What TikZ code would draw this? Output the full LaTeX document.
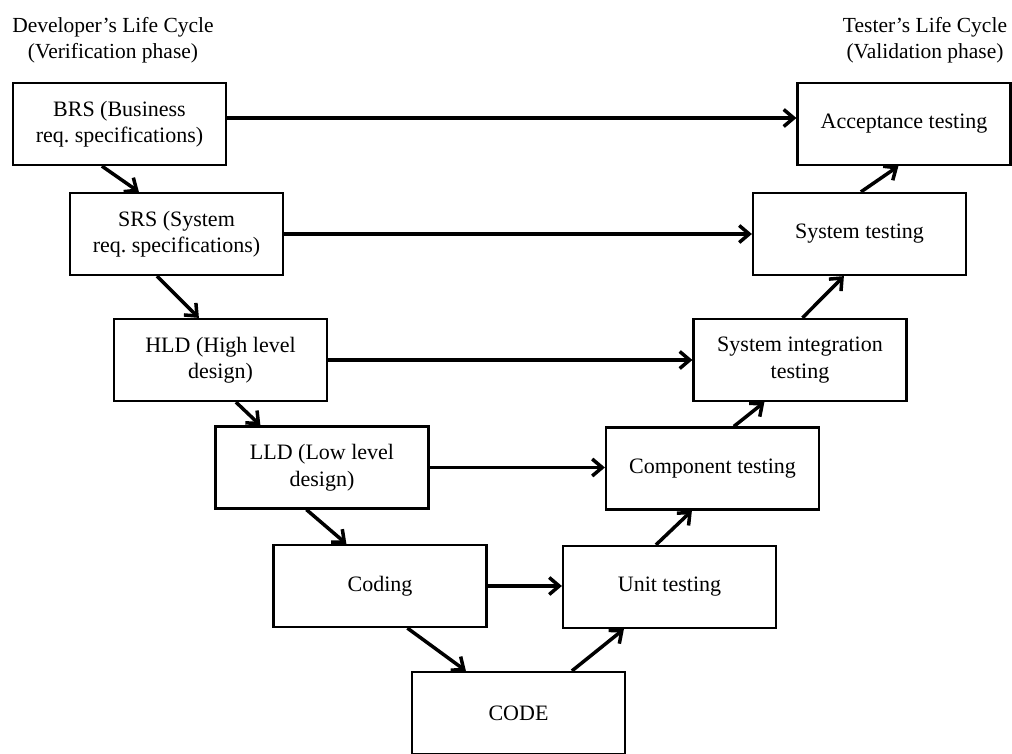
\documentclass[tikz,border=0pt]{standalone}
\usepackage{fontspec}
\setmainfont{Liberation Serif}
\usetikzlibrary{arrows.meta,calc}

\begin{document}
\frenchspacing
\begin{tikzpicture}[x=1pt,y=-1pt,
  phase/.style={draw=black,line width=2.2pt,minimum width=213pt,minimum height=82pt,
    inner sep=0pt,align=center,font=\fontsize{22}{26.5}\selectfont},
  title/.style={align=center,inner sep=0pt,font=\fontsize{21.5}{25.5}\selectfont},
  flow/.style={line width=3.5pt,-{Straight Barb[length=10pt,width=17pt,line width=3.5pt]}}]
\useasboundingbox[fill=white] (0,0) rectangle (1012,754);

% column headings
\node[title] (devtitle) at (113,40) {Developer’s Life Cycle\\(Verification phase)};
\node[title] (testtitle) at (925,40) {Tester’s Life Cycle\\(Validation phase)};

% verification side
\node[phase] (BRS)    at (119.5,124) {BRS (Business\\req. specifications)};
\node[phase] (SRS)    at (176.5,234) {SRS (System\\req. specifications)};
\node[phase] (HLD)    at (220.5,360) {HLD (High level\\design)};
\node[phase] (LLD)    at (322,467.5) {LLD (Low level\\design)};
\node[phase] (Coding) at (380,586)   {Coding};

% bottom of the V
\node[phase] (CODE)   at (518.5,713) {CODE};

% validation side
\node[phase] (Unit)   at (669.5,587) {Unit testing};
\node[phase] (Comp)   at (712.5,468.5) {Component testing};
\node[phase] (SIT)    at (800,360)   {System integration\\testing};
\node[phase] (SysT)   at (859.5,234) {System testing};
\node[phase] (Acc)    at (904,124)   {Acceptance testing};

% each development level paired with its test level
\draw[flow] ([yshift=6pt]BRS.east) -- ([yshift=6pt]Acc.west);
\draw[flow] (SRS.east) -- (SRS.east -| SysT.west);
\draw[flow] (HLD.east) -- (HLD.east -| SIT.west);
\draw[flow] (LLD.east) -- (LLD.east -| Comp.west);
\draw[flow] (Coding.east) -- (Coding.east -| Unit.west);

% down the left arm
\draw[flow] ($(BRS.south west)+(90,0)$) -- ($(SRS.north west)+(70,0)$);
\draw[flow] ($(SRS.south west)+(88,0)$) -- ($(HLD.north west)+(86,0)$);
\draw[flow] ($(HLD.south west)+(123,0)$) -- ($(LLD.north west)+(46,0)$);
\draw[flow] ($(LLD.south west)+(92,0)$) -- ($(Coding.north west)+(74,0)$);
\draw[flow] ($(Coding.south west)+(135,0)$) -- ($(CODE.north west)+(55,0)$);

% up the right arm
\draw[flow] ($(CODE.north west)+(161,0)$) -- ($(Unit.south west)+(62,0)$);
\draw[flow] ($(Unit.north west)+(94,0)$) -- ($(Comp.south west)+(87,0)$);
\draw[flow] ($(Comp.north west)+(129,0)$) -- ($(SIT.south west)+(72,0)$);
\draw[flow] ($(SIT.north west)+(110,0)$) -- ($(SysT.south west)+(92,0)$);
\draw[flow] ($(SysT.north west)+(109,0)$) -- ($(Acc.south west)+(102,0)$);
\end{tikzpicture}
\end{document}
